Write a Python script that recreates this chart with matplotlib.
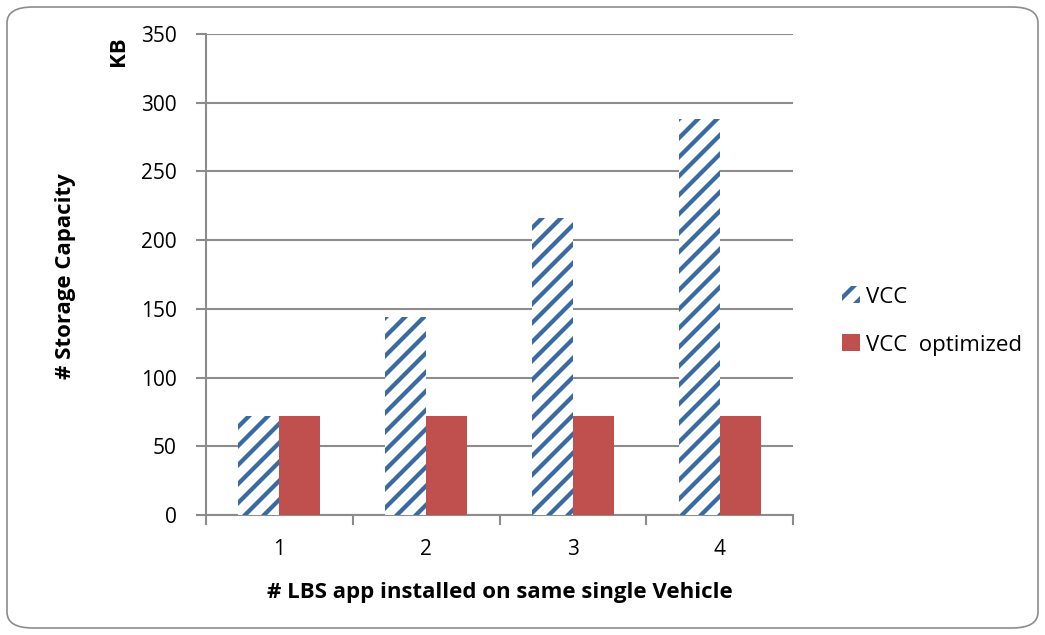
import numpy as np
import matplotlib
matplotlib.use('Agg')
from matplotlib import pyplot as plt
from matplotlib.patches import FancyBboxPatch

apps = ['1', '2', '3', '4']
vcc = [72, 144, 216, 288]
vcc_opt = [72, 72, 72, 72]

# hatch spacing is tied to dpi, so pick the dpi that gives the stripe
# spacing of the original and scale point sizes to match
DPI = 114
k = 100 / DPI

plt.rcParams['font.family'] = ['Open Sans', 'DejaVu Sans']
plt.rcParams['hatch.linewidth'] = 2.7

blue = '#3A6AA3'
red = '#C0504D'
grid = '#8C8C8C'

fig = plt.figure(figsize=(1045/DPI, 635/DPI), dpi=DPI)
ax = fig.add_axes([206/1045, 1-515/635, (793-206)/1045, (515-34)/635])

# rounded frame round the whole chart
fig.patches.append(FancyBboxPatch((7/1045, 7/635), 1031/1045, 621/635,
                                  boxstyle='round,pad=0,rounding_size=0.025',
                                  transform=fig.transFigure, fc='none',
                                  ec='#8C8C8C', lw=1.2*k))

x = np.arange(len(apps))
w = 0.28
ax.bar(x - w/2, vcc, w, color='white', edgecolor=blue, hatch='//', linewidth=0,
       label='VCC', zorder=3)
ax.bar(x + w/2, vcc_opt, w, color=red, linewidth=0, label='VCC  optimized', zorder=3)

ax.set_xlim(-0.5, 3.5)
ax.set_ylim(0, 350)
ax.set_yticks(range(0, 351, 50))
ax.set_xticks(x)
ax.set_xticklabels(apps)
ax.set_xticks(np.arange(-0.5, 4, 1), minor=True)
ax.tick_params(axis='x', which='major', length=0, pad=17*k, labelsize=15*k)
ax.tick_params(axis='x', which='minor', length=7*k, color=grid, width=1.5*k, direction='out')
ax.tick_params(axis='y', length=7*k, color=grid, width=1.5*k, direction='out',
               pad=14*k, labelsize=15*k)
ax.yaxis.grid(True, color=grid, lw=1.5*k, zorder=0)
for s in ['top', 'right']:
    ax.spines[s].set_visible(False)
for s in ['left', 'bottom']:
    ax.spines[s].set_color(grid)
    ax.spines[s].set_linewidth(1.5*k)

ax.set_xlabel('# LBS app installed on same single Vehicle', fontsize=16*k,
              fontweight='bold', labelpad=16*k)
fig.text(65/1045, 1-276/635, '# Storage Capacity', rotation=90, fontsize=16*k,
         fontweight='bold', ha='center', va='center')
fig.text(118/1045, 1-51/635, 'KB', rotation=90, fontsize=16*k,
         fontweight='bold', ha='center', va='center')

ax.legend(loc='center left', bbox_to_anchor=(822/1045, 1-321/635),
          bbox_transform=fig.transFigure, frameon=False, fontsize=16*k,
          handlelength=0.8, handleheight=0.8, handletextpad=0.3, labelspacing=1.2)

fig.savefig('out.png', dpi=DPI)
